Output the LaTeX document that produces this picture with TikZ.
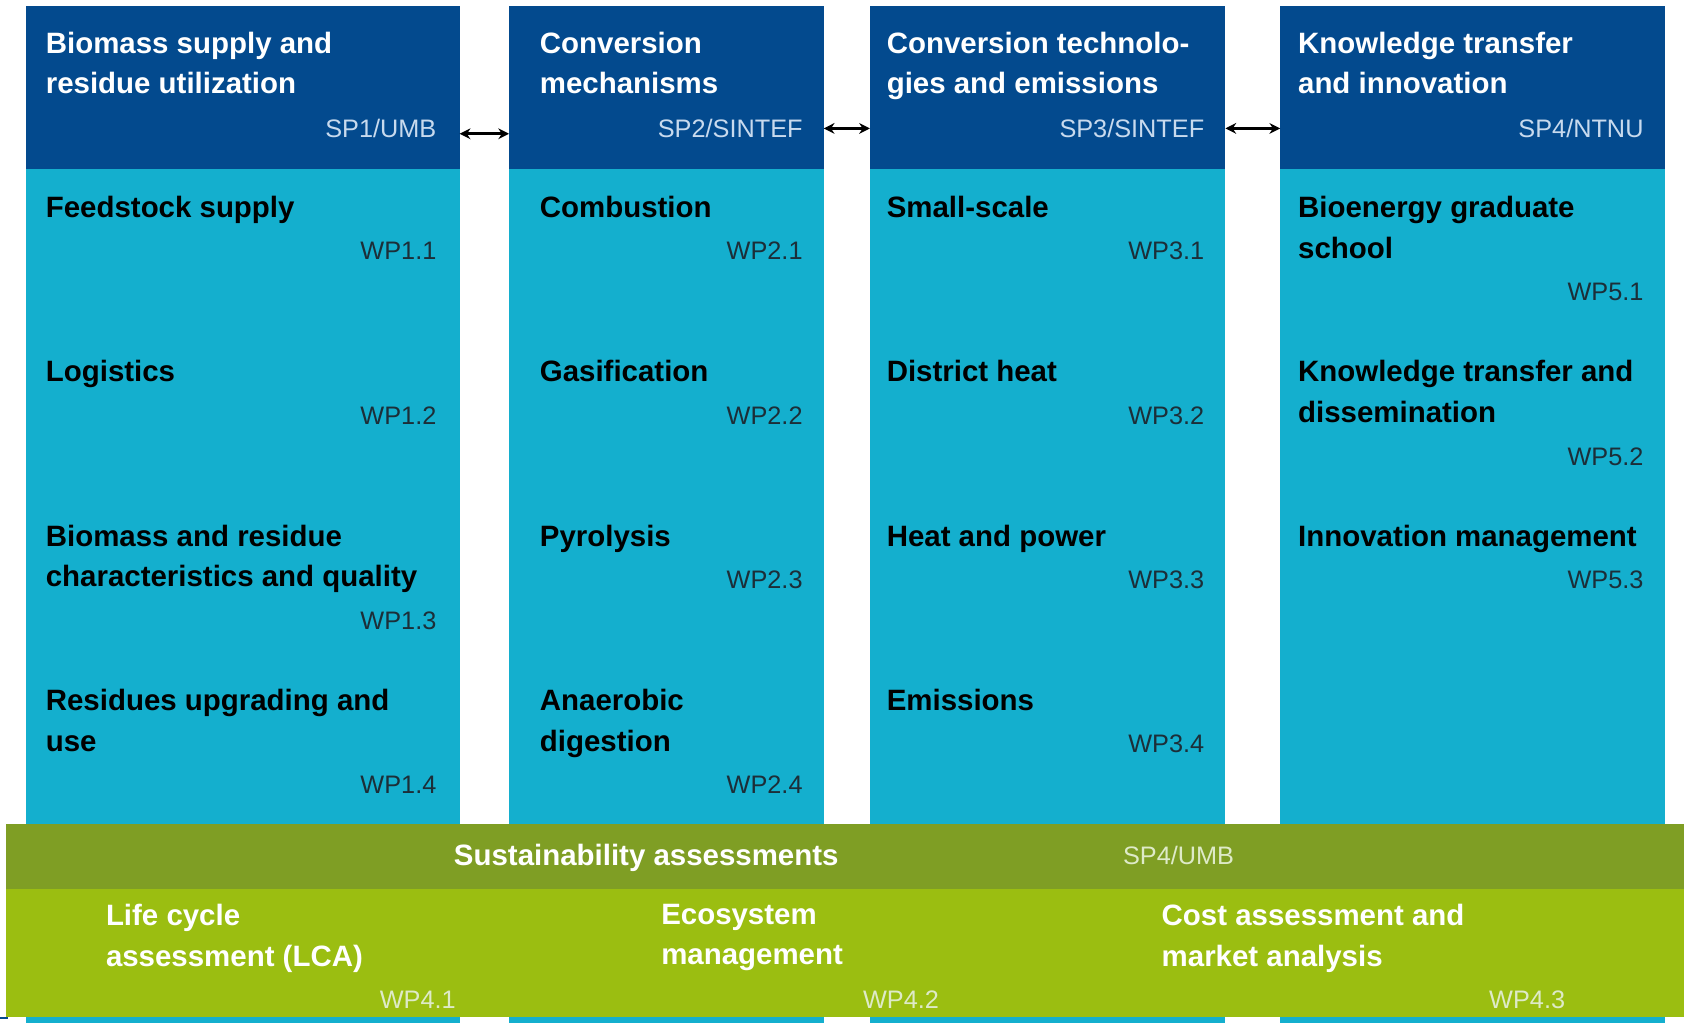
\documentclass[tikz,border=0pt]{standalone}
\usepackage{fontspec}
\setmainfont{Liberation Sans}
\usetikzlibrary{arrows.meta}
\definecolor{spblue}{RGB}{3,74,142}
\definecolor{wpcyan}{RGB}{20,175,206}
\definecolor{sustdark}{RGB}{127,158,36}
\definecolor{sustlight}{RGB}{155,190,17}
\definecolor{spgrey}{RGB}{200,218,238}
\definecolor{wpgrey}{RGB}{28,46,56}
\definecolor{bandgrey}{RGB}{222,234,200}
\tikzset{
    block/.style={inner sep=0pt, outer sep=0pt, anchor=north west}, % colour field of a column or band
    title/.style={inner sep=0pt, anchor=north west, align=left, text=white, font=\fontsize{7.8}{10.8}\selectfont\bfseries},
    item/.style={title, text=black},
    tag/.style={inner sep=0pt, anchor=base east, text=wpgrey, font=\fontsize{6.7}{8}\selectfont},
    link/.style={{Stealth[length=1mm,width=1mm]}-{Stealth[length=1mm,width=1mm]}, line width=0.7pt}
}

\begin{document}
\begin{tikzpicture}[x=0.1mm, y=-0.1mm]
    \useasboundingbox (0,0) rectangle (1568,953);

    % columns: header and work packages
    \foreach \l/\r/\n in {24/428/1, 474/767/2, 810/1141/3, 1192/1550/4} {
        \node[block, fill=spblue, minimum width={(\r-\l)*0.1mm}, minimum height=15.1mm] (h\n) at (\l,6) {};
        \node[block, fill=wpcyan, minimum width={(\r-\l)*0.1mm}, minimum height=79.6mm] (b\n) at (\l,157) {};
    }

    \node[title] (t1) at (42,29) {Biomass supply and\\residue utilization};
    \node[title] (t2) at (502,29) {Conversion\\mechanisms};
    \node[title] (t3) at (825,29) {Conversion technolo-\\gies and emissions};
    \node[title] (t4) at (1208,29) {Knowledge transfer\\and innovation};
    \node[tag, text=spgrey] (s1) at (407,128) {SP1/UMB};
    \node[tag, text=spgrey] (s2) at (748,128) {SP2/SINTEF};
    \node[tag, text=spgrey] (s3) at (1122,128) {SP3/SINTEF};
    \node[tag, text=spgrey] (s4) at (1531,128) {SP4/NTNU};

    \draw[link] ([yshift=-0.5mm]s1 -| h1.east) -- ([yshift=-0.5mm]s1 -| h2.west);
    \draw[link] (s2 -| h2.east) -- (s2 -| h3.west);
    \draw[link] (s3 -| h3.east) -- (s3 -| h4.west);

    % SP1
    \node[item] (i11) at (42,182) {Feedstock supply};
    \node[tag] (w11) at (407,242) {WP1.1};
    \node[item] (i12) at (42,335) {Logistics};
    \node[tag] (w12) at (407,395) {WP1.2};
    \node[item] (i13) at (42,488) {Biomass and residue\\characteristics and quality};
    \node[tag] (w13) at (407,586) {WP1.3};
    \node[item] (i14) at (42,641) {Residues upgrading and\\use};
    \node[tag] (w14) at (407,739) {WP1.4};

    % SP2
    \node[item] (i21) at (502,182) {Combustion};
    \node[tag] (w21) at (748,242) {WP2.1};
    \node[item] (i22) at (502,335) {Gasification};
    \node[tag] (w22) at (748,395) {WP2.2};
    \node[item] (i23) at (502,488) {Pyrolysis};
    \node[tag] (w23) at (748,548) {WP2.3};
    \node[item] (i24) at (502,641) {Anaerobic\\digestion};
    \node[tag] (w24) at (748,739) {WP2.4};

    % SP3
    \node[item] (i31) at (825,182) {Small-scale};
    \node[tag] (w31) at (1122,242) {WP3.1};
    \node[item] (i32) at (825,335) {District heat};
    \node[tag] (w32) at (1122,395) {WP3.2};
    \node[item] (i33) at (825,488) {Heat and power};
    \node[tag] (w33) at (1122,548) {WP3.3};
    \node[item] (i34) at (825,641) {Emissions};
    \node[tag] (w34) at (1122,701) {WP3.4};

    % SP4/NTNU
    \node[item] (i51) at (1208,182) {Bioenergy graduate\\school};
    \node[tag] (w51) at (1531,280) {WP5.1};
    \node[item] (i52) at (1208,335) {Knowledge transfer and\\dissemination};
    \node[tag] (w52) at (1531,433) {WP5.2};
    \node[item] (i53) at (1208,488) {Innovation management};
    \node[tag] (w53) at (1531,548) {WP5.3};

    % sustainability band
    \node[block, fill=sustdark, minimum width=156.2mm, minimum height=6.1mm] (sa) at (6,767) {};
    \node[block, fill=sustlight, minimum width=156.2mm, minimum height=11.9mm] (wp4) at (6,828) {};
    \node[title] (ta) at (422,785) {Sustainability assessments};
    \node[tag, anchor=base west, text=bandgrey] (sa4) at (1045,805) {SP4/UMB};
    \node[title] (i41) at (98,841) {Life cycle\\assessment (LCA)};
    \node[tag, text=bandgrey] (w41) at (425,939) {WP4.1};
    \node[title] (i42) at (615,841) {Ecosystem\\management};
    \node[tag, text=bandgrey] (w42) at (875,939) {WP4.2};
    \node[title] (i43) at (1081,841) {Cost assessment and\\market analysis};
    \node[tag, text=bandgrey] (w43) at (1458,939) {WP4.3};

    \draw[spblue, line width=0.5pt] (0,948) -- (7,948);
\end{tikzpicture}
\end{document}
